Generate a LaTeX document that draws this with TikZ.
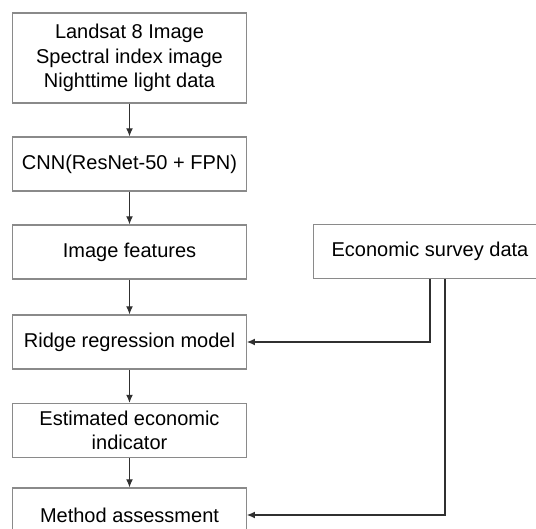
\documentclass[tikz,border=0pt]{standalone}
\usepackage{fontspec}
\setmainfont{Liberation Sans}
\usetikzlibrary{arrows.meta}

\definecolor{boxgray}{HTML}{8A8A8A}
\definecolor{linegray}{HTML}{303030}

\begin{document}
\begin{tikzpicture}[x=0.5pt,y=-0.5pt,
   box/.style={draw=boxgray,line width=0.6pt,fill=white,minimum width=116.75pt,
      minimum height=27pt,align=center,inner sep=0pt,
      font=\fontsize{10}{12.3}\selectfont},
   link/.style={draw=linegray,line width=0.55pt,-{Latex[length=4pt,width=3.4pt]}}]

   \useasboundingbox (0,0) rectangle (536,529);
   \clip (0,0) rectangle (536,529);

   \node[box,minimum height=45pt] (input) at (129.5,58)
      {Landsat 8 Image\\Spectral index image\\Nighttime light data};
   \node[box] (cnn) at (129.5,164) {CNN(ResNet-50 + FPN)};
   \node[box] (features) at (129.5,252) {Image features};
   \node[box] (ridge) at (129.5,342) {Ridge regression model};
   \node[box] (estimate) at (129.5,430.5) {Estimated economic\\indicator};
   \node[box] (assess) at (129.5,515) {Method assessment};
   \node[box] (survey) at (430,251.5) {Economic survey data};

   \foreach \a/\b in {input/cnn,cnn/features,features/ridge,ridge/estimate,estimate/assess}
   {
      \draw[link] (\a) -- (\b);
   }

   \draw[link] (survey.south) |- (ridge.east);
   \draw[link] ([xshift=7.5pt]survey.south) |- (assess.east);
\end{tikzpicture}
\end{document}
